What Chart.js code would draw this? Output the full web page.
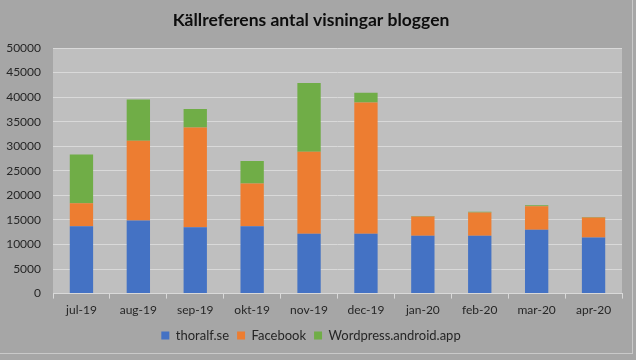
<!DOCTYPE html>
<html>
<head>
<meta charset="utf-8">
<script src="https://cdn.jsdelivr.net/npm/chart.js@4/dist/chart.umd.min.js"></script>
<style>
html,body{margin:0;padding:0;background:#a6a6a6;}
#wrap{position:absolute;left:0;top:0;width:632px;height:353px;border-right:1px solid #c9c9c9;border-bottom:1px solid #c9c9c9;}
</style>
</head>
<body>
<div id="wrap"><canvas id="c" width="632" height="353"></canvas></div>
<script>
const categories = ["jul-19","aug-19","sep-19","okt-19","nov-19","dec-19","jan-20","feb-20","mar-20","apr-20"];
const thoralf = [13700,14900,13500,13700,12200,12200,11800,11800,13000,11400];
const facebook = [4700,16200,20300,8700,16700,26700,3900,4700,4800,4100];
const wordpress = [9900,8400,3800,4600,14000,2000,100,150,200,100];
const seriesNames = ["thoralf.se","Facebook","Wordpress.android.app"];
const titleText = "Källreferens antal visningar bloggen";

const FONT = "Lato, 'Open Sans', sans-serif";
const plotBg = {
  id:'plotBg',
  beforeDraw(chart){
    const {ctx, chartArea:a} = chart;
    ctx.save();
    ctx.fillStyle = '#bfbfbf';
    ctx.fillRect(a.left, a.top, a.right-a.left, a.bottom-a.top);
    ctx.restore();
  }
};
Chart.defaults.font.family = FONT;
Chart.defaults.color = '#262626';
new Chart(document.getElementById('c'), {
  type:'bar',
  data:{
    labels: categories,
    datasets:[
      {label:seriesNames[0], data:thoralf, backgroundColor:'#4472c4'},
      {label:seriesNames[1], data:facebook, backgroundColor:'#ed7d31'},
      {label:seriesNames[2], data:wordpress, backgroundColor:'#70ad47'}
    ]
  },
  options:{
    responsive:false,
    animation:false,
    layout:{padding:{left:0,right:10,top:10,bottom:1}},
    datasets:{bar:{categoryPercentage:1, barPercentage:0.41}},
    plugins:{
      title:{display:true, text:titleText, color:'#0d0d0d',
        font:{size:17.5, weight:'bold', family:FONT}, padding:{top:0,bottom:17}},
      legend:{position:'bottom', labels:{boxWidth:8, boxHeight:8, font:{size:13}, color:'#262626', padding:8}},
      tooltip:{enabled:false}
    },
    scales:{
      x:{stacked:true,
        grid:{offset:true, drawOnChartArea:false, drawTicks:true, tickLength:5, color:'#d9d9d9'},
        border:{color:'#d9d9d9'},
        ticks:{font:{size:12}, color:'#262626', padding:4}
      },
      y:{stacked:true, min:0, max:50000,
        afterFit(s){ s.width = 53; },
        grid:{color:'#d9d9d9', drawTicks:false},
        border:{display:false},
        ticks:{stepSize:5000, font:{size:12}, color:'#262626', padding:12,
          callback:(v)=>String(v)}
      }
    }
  },
  plugins:[plotBg]
});
</script>
</body>
</html>
